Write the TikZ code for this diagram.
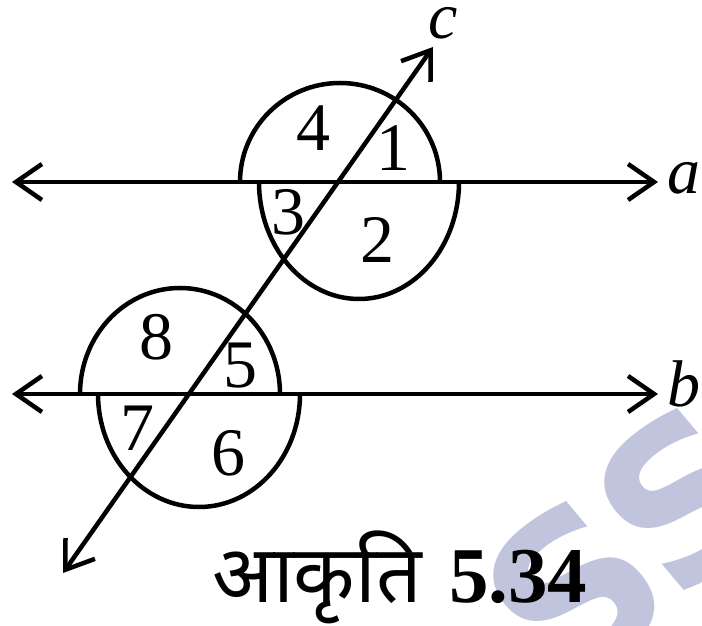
\documentclass[tikz,border=0pt]{standalone}
\usepackage{fontspec}
\setmainfont{Liberation Serif}
\newfontfamily\deva[Script=Devanagari]{Noto Sans}
\newfontfamily\wmfont{DejaVu Sans}
\usetikzlibrary{arrows.meta}
\definecolor{wm}{RGB}{192,196,220}
\tikzset{
  ln/.style={line width=4.5pt, line cap=butt},
  tips/.style={{Straight Barb[length=26pt,width=36pt,line width=4.5pt]}-{Straight Barb[length=26pt,width=36pt,line width=4.5pt]}},
  arcline/.style={line width=4.5pt},
  num/.style={font=\fontsize{68}{68}\selectfont, inner sep=0pt},
  lab/.style={font=\fontsize{66}{66}\selectfont\itshape, inner sep=0pt},
}
\begin{document}
\begin{tikzpicture}[x=1pt,y=1pt]
\useasboundingbox (0,0) rectangle (702,626);
\begin{scope}
\clip (0,0) rectangle (702,626);
\node[text=wm, font=\fontsize{215}{215}\selectfont\wmfont\bfseries, rotate=40, anchor=west, inner sep=0pt] (wmk) at (515,-15) {SSE};
\end{scope}
% lines
\coordinate (aL) at (12,444);
\coordinate (aR) at (658,444);
\coordinate (bL) at (12,232);
\coordinate (bR) at (658,232);
\coordinate (cL) at (63,53);
\coordinate (cR) at (433,579);
\draw[ln,tips] (aL) -- (aR);
\draw[ln,tips] (bL) -- (bR);
\draw[ln,tips] (cL) -- (cR);
% circles
\draw[arcline] (240,444) arc[start angle=180, end angle=0, x radius=100, y radius=99];
\draw[arcline] (259,444) arc[start angle=180, end angle=360, x radius=100, y radius=117];
\draw[arcline] (80,232) arc[start angle=180, end angle=0, x radius=100, y radius=106];
\draw[arcline] (98,232) arc[start angle=180, end angle=360, x radius=101, y radius=113];
% labels
\node[lab] (la) at (684,448) {a};
\node[lab] (lb) at (684,242) {b};
\node[lab] (lc) at (443,603) {c};
% angle numbers
\node[num] (n4) at (313,498) {4};
\node[num] (n1) at (393,478) {1};
\node[num] (n3) at (288,414) {3};
\node[num] (n2) at (377,386) {2};
\node[num] (n8) at (156,289) {8};
\node[num] (n5) at (240,260) {5};
\node[num] (n7) at (137,198) {7};
\node[num] (n6) at (228,173) {6};
% caption
\node[anchor=base west, inner sep=0pt, font=\fontsize{80}{80}\selectfont\deva\bfseries] (capd) at (212,23) {आकृति};
\node[anchor=base west, inner sep=0pt, font=\fontsize{79}{79}\selectfont\bfseries] (capn) at (449,23) {5.34};
\end{tikzpicture}
\end{document}
